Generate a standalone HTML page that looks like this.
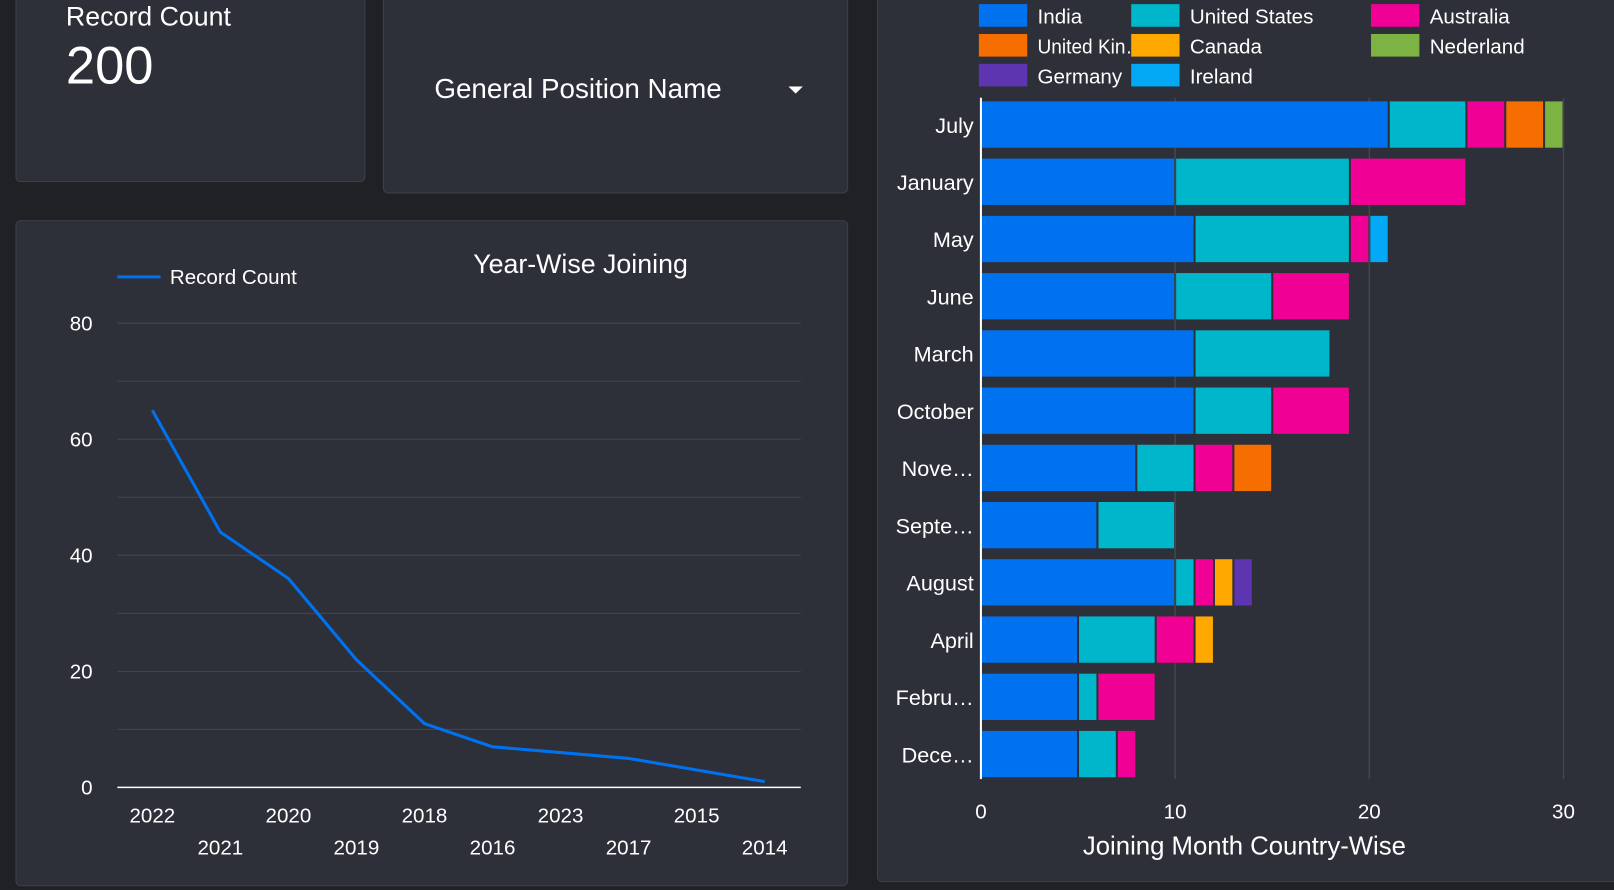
<!DOCTYPE html>
<html><head><meta charset="utf-8">
<style>
body{margin:0;width:1614px;height:890px;background:#202124;overflow:hidden;font-family:"Liberation Sans","DejaVu Sans",sans-serif;color:#fff;position:relative}
#wrap{position:absolute;left:0;top:0;width:1568px;height:865px;transform:scale(1.0293);transform-origin:0 0}
.card{position:absolute;background:#2d2f39;border:1px solid #3d4049;border-radius:5px;box-sizing:border-box}
</style></head><body>
<div id="wrap">
<div class="card" style="left:15px;top:-10px;width:340px;height:187px">
 <div style="position:absolute;left:48px;top:10px;font-size:26px">Record Count</div>
 <div style="position:absolute;left:48px;top:43px;font-size:51px">200</div>
</div>
<div class="card" style="left:372px;top:-10px;width:452px;height:198px">
 <div style="position:absolute;left:49px;top:80px;font-size:27px">General Position Name</div>
 <div style="position:absolute;left:393px;top:93px;width:0;height:0;border-left:7px solid transparent;border-right:7px solid transparent;border-top:7px solid #fff"></div>
</div>
<div class="card" style="left:15px;top:214px;width:809px;height:647px"></div>
<div class="card" style="left:852px;top:-10px;width:730px;height:867px"></div>
<svg id="svg" width="1568" height="865" style="position:absolute;left:0;top:0"></svg>
</div>
<script>
const yearLabels=["2022","2021","2020","2019","2018","2016","2023","2017","2015","2014"];
const yearCounts=[65,44,36,22,11,7,6,5,3,1];
const months=["July","January","May","June","March","October","Nove\u2026","Septe\u2026","August","April","Febru\u2026","Dece\u2026"];
const countries=["India","United States","Australia","United Kin\u2026","Canada","Nederland","Germany","Ireland"];
const colors=["#0072f0","#00b6cb","#f10096","#f66d00","#ffa800","#7cb342","#5e35b1","#03a9f4"];
const india=[21,10,11,10,11,11,8,6,10,5,5,5];
const us=[4,9,8,5,7,4,3,4,1,4,1,2];
const aus=[2,6,1,4,0,4,2,0,1,2,3,1];
const uk=[2,0,0,0,0,0,2,0,0,0,0,0];
const canada=[0,0,0,0,0,0,0,0,1,1,0,0];
const ned=[1,0,0,0,0,0,0,0,0,0,0,0];
const germany=[0,0,0,0,0,0,0,0,1,0,0,0];
const ireland=[0,0,1,0,0,0,0,0,0,0,0,0];
const xTicks=[0,10,20,30];
const yTicks=[0,20,40,60,80];
const NS="http://www.w3.org/2000/svg",svg=document.getElementById('svg');
function mk(t,a,p){const e=document.createElementNS(NS,t);for(const k in a)e.setAttribute(k,a[k]);(p||svg).appendChild(e);return e;}
function txt(x,y,s,size,anchor){const e=mk('text',{x:x,y:y,'font-size':size,fill:'#fff','text-anchor':anchor||'start','font-family':'Liberation Sans, DejaVu Sans, sans-serif'});e.textContent=s;return e;}
// line chart
const lx=i=>148+i*66.1, ly=v=>765-v*(451/80);
for(let v=0;v<=80;v+=10){const g=mk('line',{x1:114,x2:778,y1:ly(v),y2:ly(v),stroke:v==0?'#fff':'#44464f','stroke-width':v==0?1.5:1});
}
yTicks.forEach(v=>{const t=txt(90,ly(v)+7,String(v),20,'end');});
yearLabels.forEach((s,i)=>{const t=txt(lx(i),i%2?830:799,s,20,'middle');});
const pl=mk('polyline',{points:yearCounts.map((v,i)=>lx(i)+','+ly(v)).join(' '),fill:'none',stroke:'#0072f0','stroke-width':3});

const ll=mk('line',{x1:114,x2:156,y1:269,y2:269,stroke:'#0072f0','stroke-width':3});

let t=txt(165,276,'Record Count',20);
t=txt(564,265,'Year-Wise Joining',26,'middle');
// bar chart
const bx=v=>953+v*(566/30), by=i=>121+i*55.6;
xTicks.forEach(v=>{if(v>0){const g=mk('line',{x1:bx(v),x2:bx(v),y1:95,y2:757,stroke:'#44464f','stroke-width':1.5});}
 const t=txt(bx(v),795,String(v),20,'middle');});
const series=[india,us,aus,uk,canada,ned,germany,ireland];
const order=[0,1,2,3,4,6,7,5];
months.forEach((m,i)=>{let acc=0;
 order.forEach(s=>{const v=series[s][i];if(!v)return;
  const r=mk('rect',{x:bx(acc)+1,y:by(i)-22.5,width:bx(acc+v)-bx(acc)-2,height:45,fill:colors[s]});
  acc+=v;});
 const t=txt(946,by(i)+8,m,21,'end');});
const ax=mk('line',{x1:953,x2:953,y1:95,y2:757,stroke:'#fff','stroke-width':2});
t=txt(1209,830,'Joining Month Country-Wise',25,'middle');
const lxs=[951,1099,1332],lys=[4,33,62];
countries.forEach((c,i)=>{const x=lxs[i%3],y=lys[Math.floor(i/3)];
 const r=mk('rect',{x:x,y:y,width:47,height:22,fill:colors[i]});
 const t=txt(x+57,y+19,c,20);
 if(c.length>10&&i===3){t.setAttribute('textLength','104');t.setAttribute('lengthAdjust','spacingAndGlyphs');}});
</script>
</body></html>
